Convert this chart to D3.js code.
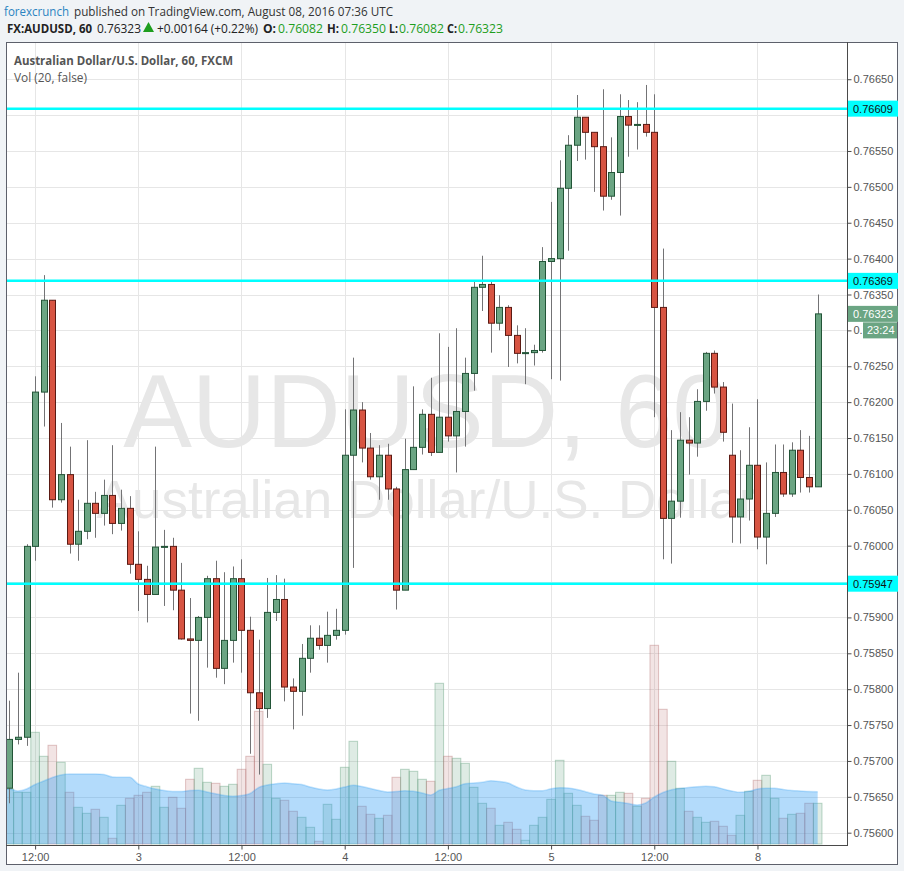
<!DOCTYPE html>
<html><head><meta charset="utf-8">
<script src="https://cdn.jsdelivr.net/npm/d3@7"></script>
<style>html,body{margin:0;padding:0;background:#f0f3f6;}svg{display:block;}</style>
</head><body>
<svg id="chart" width="904" height="871"></svg>
<script>
// ---- DATA (AUDUSD 60m, FXCM) ----
const opens = [0.75662,0.75730,0.75733,0.75999,0.76214,0.76342,0.76064,0.76099,0.76002,0.76020,
0.76059,0.76045,0.76070,0.76031,0.76052,0.75974,0.75953,0.75932,0.75998,0.75999,
0.75938,0.75870,0.75868,0.75900,0.75954,0.75829,0.75868,0.75954,0.75882,0.75795,
0.75773,0.75907,0.75925,0.75803,0.75797,0.75843,0.75871,0.75861,0.75875,0.75882,
0.76126,0.76189,0.76136,0.76096,0.76126,0.76079,0.75938,0.76106,0.76137,0.76183,
0.76130,0.76179,0.76153,0.76187,0.76240,0.76360,0.76364,0.76310,0.76332,0.76293,
0.76268,0.76269,0.76272,0.76396,0.76400,0.76498,0.76558,0.76597,0.76576,0.76556,
0.76487,0.76520,0.76598,0.76586,0.76587,0.76576,0.76332,0.76038,0.76062,0.76147,
0.76143,0.76201,0.76268,0.76221,0.76126,0.76040,0.76065,0.76112,0.76012,0.76045,
0.76102,0.76072,0.76133,0.76095,0.76082];
const highs = [0.75784,0.75823,0.76002,0.76236,0.76377,0.76342,0.76171,0.76138,0.76064,0.76147,
0.76075,0.76092,0.76140,0.76078,0.76069,0.76020,0.75972,0.76138,0.76022,0.76011,
0.75976,0.75927,0.75902,0.75958,0.75979,0.75963,0.75971,0.75981,0.75901,0.75869,
0.75955,0.75959,0.75954,0.75815,0.75863,0.75889,0.75889,0.75908,0.75912,0.76190,
0.76262,0.76200,0.76157,0.76140,0.76142,0.76082,0.76149,0.76222,0.76190,0.76234,
0.76296,0.76277,0.76303,0.76262,0.76368,0.76404,0.76368,0.76349,0.76335,0.76307,
0.76303,0.76280,0.76416,0.76479,0.76537,0.76572,0.76628,0.76597,0.76576,0.76636,
0.76569,0.76629,0.76621,0.76618,0.76642,0.76629,0.76414,0.76161,0.76186,0.76179,
0.76218,0.76270,0.76272,0.76228,0.76198,0.76133,0.76165,0.76204,0.76116,0.76141,
0.76141,0.76144,0.76161,0.76153,0.76350];
const lows = [0.75641,0.75723,0.75721,0.75979,0.76166,0.76053,0.76060,0.75989,0.75979,0.76009,
0.76011,0.76028,0.76016,0.76021,0.75961,0.75909,0.75893,0.75932,0.75916,0.75910,
0.75869,0.75766,0.75756,0.75830,0.75816,0.75807,0.75837,0.75823,0.75710,0.75681,
0.75760,0.75895,0.75783,0.75744,0.75763,0.75823,0.75855,0.75837,0.75869,0.75876,
0.75969,0.76116,0.76092,0.76064,0.76064,0.75911,0.75938,0.76106,0.76127,0.76125,
0.76130,0.76145,0.76102,0.76138,0.76216,0.76327,0.76269,0.76300,0.76249,0.76254,
0.76225,0.76251,0.76269,0.76232,0.76230,0.76411,0.76536,0.76538,0.76493,0.76467,
0.76482,0.76460,0.76542,0.76552,0.76570,0.76179,0.75981,0.75975,0.76039,0.76099,
0.76124,0.76188,0.76212,0.76145,0.76004,0.76003,0.76035,0.75995,0.75974,0.76040,
0.76068,0.76068,0.76074,0.76074,0.76082];
const closes = [0.75730,0.75733,0.75999,0.76214,0.76342,0.76064,0.76099,0.76002,0.76020,0.76059,
0.76045,0.76070,0.76031,0.76052,0.75974,0.75953,0.75932,0.75998,0.75999,0.75938,
0.75870,0.75868,0.75900,0.75954,0.75829,0.75868,0.75954,0.75882,0.75795,0.75773,
0.75907,0.75925,0.75803,0.75797,0.75843,0.75871,0.75861,0.75875,0.75882,0.76126,
0.76189,0.76136,0.76096,0.76126,0.76079,0.75938,0.76106,0.76137,0.76183,0.76130,
0.76179,0.76153,0.76187,0.76240,0.76360,0.76364,0.76310,0.76332,0.76293,0.76268,
0.76269,0.76272,0.76396,0.76400,0.76498,0.76558,0.76597,0.76576,0.76556,0.76487,
0.76520,0.76598,0.76586,0.76587,0.76576,0.76332,0.76038,0.76062,0.76147,0.76143,
0.76201,0.76268,0.76221,0.76158,0.76040,0.76065,0.76112,0.76012,0.76045,0.76102,
0.76072,0.76133,0.76095,0.76082,0.76323];
const volumes = [550,517,517,1117,877,987,817,517,367,307,
347,267,57,387,457,487,517,577,367,467,
357,647,757,617,607,577,597,747,877,1327,
797,457,437,327,267,167,27,397,247,767,
1027,377,297,257,287,667,747,727,647,627,
1607,877,857,807,567,407,357,187,217,147,
37,187,267,447,837,507,387,277,237,487,
487,517,507,377,457,1987,1347,827,557,327,
267,217,227,177,87,287,527,637,687,457,
257,297,307,407,407];
const volMA = [550,530,550,595,630,665,690,700,700,700,
700,695,670,667,667,600,573,550,535,525,
525,535,537,520,502,485,477,485,505,565,
590,602,610,603,595,570,550,540,550,570,
587,575,555,535,520,525,532,527,510,490,
537,555,573,603,610,617,633,625,610,570,
540,533,533,553,563,560,545,523,500,487,
430,417,405,390,410,470,515,543,555,565,
573,577,572,550,530,517,527,550,557,557,
545,535,530,525,523];
const levels = [0.76609, 0.76369, 0.75947];
const lastPrice = 0.76323;
const countdown = "23:24";
const xTickIndex = [3, 15, 27, 39, 51, 63, 75, 87];
const xTickLabels = ["12:00", "3", "12:00", "4", "12:00", "5", "12:00", "8"];
const yTicks = [0.75600,0.75650,0.75700,0.75750,0.75800,0.75850,0.75900,0.75950,0.76000,0.76050,
0.76100,0.76150,0.76200,0.76250,0.76300,0.76350,0.76400,0.76450,0.76500,0.76550,0.76600,0.76650];

// ---- LAYOUT ----
const svg = d3.select("#chart");
const L = 6, R = 847, T = 42, B = 845;
const upFill = "#6ba583", upStroke = "#225437", dnFill = "#d75442", dnStroke = "#5b1a13", wick = "#737375";
const axisFont = "'Liberation Sans', Arial, sans-serif";
const uiFont = "'Open Sans', 'Noto Sans', sans-serif";
const fmt = d3.format(".5f");

const x = d3.scaleLinear().domain([-0.384, 97.41]).range([L, R]);
const y = d3.scaleLinear().domain([0.756, 0.766]).range([832.7, 115.1]);
const yv = d3.scaleLinear().domain([0, 2000]).range([844, 644]);

svg.append("rect").attr("width", 904).attr("height", 871).attr("fill", "#f0f3f6");
svg.append("rect").attr("x", L + 0.5).attr("y", T + 0.5).attr("width", 897 - L).attr("height", 864 - T)
  .attr("fill", "#fff").attr("stroke", "#5d606b");

svg.append("defs").append("clipPath").attr("id", "plot")
  .append("rect").attr("x", L + 1).attr("y", T + 1).attr("width", R - L - 1).attr("height", B - T - 1);

const plot = svg.append("g").attr("clip-path", "url(#plot)");

// grid
plot.selectAll(".hg").data(yTicks).enter().append("line")
  .attr("x1", L).attr("x2", R).attr("y1", d => Math.round(y(d)) + 0.5).attr("y2", d => Math.round(y(d)) + 0.5)
  .attr("stroke", "#e6e6e6");
plot.selectAll(".vg").data(xTickIndex).enter().append("line")
  .attr("y1", T).attr("y2", B).attr("x1", d => Math.round(x(d)) + 0.5).attr("x2", d => Math.round(x(d)) + 0.5)
  .attr("stroke", "#e6e6e6");

// watermark
const cx = (L + R) / 2;
plot.append("text").attr("x", cx).attr("y", 447).attr("text-anchor", "middle")
  .attr("font-family", axisFont).attr("font-size", 103).attr("fill", "#e7e7e7").text("AUDUSD, 60");
plot.append("text").attr("x", cx).attr("y", 518).attr("text-anchor", "middle")
  .attr("font-family", axisFont).attr("font-size", 53).attr("fill", "#e7e7e7").text("Australian Dollar/U.S. Dollar");

const idx = d3.range(opens.length);
const isUp = i => closes[i] >= opens[i];

// volume bars
plot.selectAll(".vol").data(idx).enter().append("rect")
  .attr("x", i => x(i) - 4.3).attr("width", 8.6)
  .attr("y", i => yv(volumes[i])).attr("height", i => yv(0) - yv(volumes[i]))
  .attr("fill", i => isUp(i) ? "rgba(107,165,131,0.22)" : "rgba(190,120,120,0.2)")
  .attr("stroke", i => isUp(i) ? "rgba(107,165,131,0.45)" : "rgba(180,110,110,0.4)")
  .attr("stroke-width", 1);

// volume MA area
const maPts = [{i: -0.5, v: volMA[0]}].concat(idx.map(i => ({i: i, v: volMA[i]})));
plot.append("path").datum(maPts)
  .attr("d", d3.area().x(d => x(d.i)).y0(yv(0)).y1(d => yv(d.v)).curve(d3.curveMonotoneX))
  .attr("fill", "rgba(33,150,243,0.34)");
plot.append("path").datum(maPts)
  .attr("d", d3.line().x(d => x(d.i)).y(d => yv(d.v)).curve(d3.curveMonotoneX))
  .attr("fill", "none").attr("stroke", "rgba(33,150,243,0.25)").attr("stroke-width", 1.5);

// candles
const c = plot.selectAll(".c").data(idx).enter().append("g");
c.append("line")
  .attr("x1", i => Math.round(x(i)) + 0.5).attr("x2", i => Math.round(x(i)) + 0.5)
  .attr("y1", i => y(highs[i])).attr("y2", i => y(lows[i]))
  .attr("stroke", wick).attr("stroke-width", 1);
c.append("rect")
  .attr("x", i => Math.round(x(i)) - 2.5).attr("width", 6)
  .attr("y", i => Math.min(y(opens[i]), y(closes[i])))
  .attr("height", i => Math.max(1, Math.abs(y(opens[i]) - y(closes[i]))))
  .attr("fill", i => isUp(i) ? upFill : dnFill)
  .attr("stroke", i => isUp(i) ? upStroke : dnStroke).attr("stroke-width", 1);

// horizontal levels
plot.selectAll(".lv").data(levels).enter().append("line")
  .attr("x1", L).attr("x2", R).attr("y1", d => y(d)).attr("y2", d => y(d))
  .attr("stroke", "#00ffff").attr("stroke-width", 2.5);

// axes
svg.append("line").attr("x1", R + 0.5).attr("x2", R + 0.5).attr("y1", T).attr("y2", B + 1).attr("stroke", "#4a4a4a");
svg.append("line").attr("x1", L).attr("x2", R + 1).attr("y1", B + 0.5).attr("y2", B + 0.5).attr("stroke", "#4a4a4a");

// y tick labels hidden behind a level box are not drawn (as in the reference)
const covered = v => levels.some(l => Math.abs(y(l) - y(v)) < 9);
const yAxisG = svg.append("g").attr("transform", `translate(${R + 0.5},0)`)
  .call(d3.axisRight(y).tickValues(yTicks).tickFormat(d => covered(d) ? "" : fmt(d)).tickSize(4).tickPadding(2));
yAxisG.select(".domain").remove();
yAxisG.selectAll(".tick line").attr("stroke", "#4a4a4a");
yAxisG.selectAll("text").attr("font-family", axisFont).attr("font-size", 11).attr("fill", "#555");

const xAxisG = svg.append("g").attr("transform", `translate(0,${B + 0.5})`)
  .call(d3.axisBottom(x).tickValues(xTickIndex).tickFormat((d, k) => xTickLabels[k]).tickSize(4).tickPadding(4));
xAxisG.select(".domain").remove();
xAxisG.selectAll(".tick line").attr("stroke", "#4a4a4a");
xAxisG.selectAll("text").attr("font-family", axisFont).attr("font-size", 11).attr("fill", "#555");

// level labels on axis
const lab = svg.selectAll(".ll").data(levels).enter().append("g");
lab.append("rect").attr("x", R + 1).attr("y", d => y(d) - 8).attr("width", 50).attr("height", 16).attr("fill", "#00ffff");
lab.append("text").attr("x", R + 6).attr("y", d => y(d) + 4).attr("font-family", axisFont).attr("font-size", 11)
  .attr("fill", "#111").text(d => fmt(d));

// last price + countdown
svg.append("rect").attr("x", R + 1).attr("y", y(lastPrice) - 8).attr("width", 50).attr("height", 16).attr("fill", upFill);
svg.append("text").attr("x", R + 6).attr("y", y(lastPrice) + 4).attr("font-family", axisFont).attr("font-size", 11)
  .attr("fill", "#fff").text(fmt(lastPrice));
svg.append("rect").attr("x", 863).attr("y", y(lastPrice) + 8.5).attr("width", 34).attr("height", 16).attr("fill", upFill);
svg.append("text").attr("x", 867).attr("y", y(lastPrice) + 20.5).attr("font-family", axisFont).attr("font-size", 11)
  .attr("fill", "#fff").text(countdown);

// header
const seg = (g, xx, yy, w, t, col, bold) => g.append("text").attr("x", xx).attr("y", yy).attr("fill", col)
  .attr("font-weight", bold ? "bold" : "normal").attr("textLength", w).attr("lengthAdjust", "spacingAndGlyphs").text(t);
const h1 = svg.append("g").attr("font-family", uiFont).attr("font-size", 12);
seg(h1, 4, 16, 65, "forexcrunch", "#2a83c1", false);
seg(h1, 74, 16, 319, "published on TradingView.com, August 08, 2016 07:36 UTC", "#333", false);

const green = "#1e9e1e";
const h2 = svg.append("g").attr("font-family", uiFont).attr("font-size", 12);
seg(h2, 7, 33, 85, "FX:AUDUSD, 60", "#222", true);
seg(h2, 97, 33, 44, fmt(lastPrice), "#222", false);
h2.append("path").attr("d", "M143,32 L154,32 L148.5,22 Z").attr("fill", green);
seg(h2, 157, 33, 101, "+0.00164 (+0.22%)", "#222", false);
seg(h2, 263, 33, 13, "O:", "#222", true); seg(h2, 278, 33, 45, fmt(opens[94]), green, false);
seg(h2, 327, 33, 12, "H:", "#222", true); seg(h2, 341, 33, 45, fmt(highs[94]), green, false);
seg(h2, 389, 33, 9, "L:", "#222", true); seg(h2, 399, 33, 45, fmt(lows[94]), green, false);
seg(h2, 447, 33, 10, "C:", "#222", true); seg(h2, 458, 33, 45, fmt(closes[94]), green, false);

// legend inside chart
const lg = svg.append("g").attr("font-family", uiFont).attr("font-size", 12);
seg(lg, 14, 65, 219, "Australian Dollar/U.S. Dollar, 60, FXCM", "#555", true);
seg(lg, 14, 82, 73, "Vol (20, false)", "#555", false);
</script>
</body></html>
